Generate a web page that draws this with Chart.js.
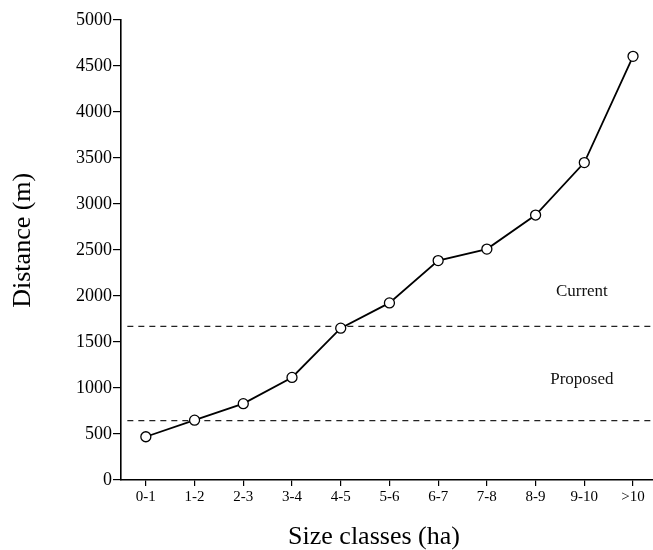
<!DOCTYPE html>
<html>
<head>
<meta charset="utf-8">
<script src="https://cdn.jsdelivr.net/npm/chart.js@4.4.1/dist/chart.umd.min.js"></script>
<style>
  html, body { margin: 0; padding: 0; background: #ffffff; }
  #wrap { width: 653px; height: 550px; position: relative; }
</style>
</head>
<body>
<div id="wrap"><canvas id="c" width="653" height="550"></canvas></div>
<script>
// ---- data ----
const categories = ['0-1', '1-2', '2-3', '3-4', '4-5', '5-6', '6-7', '7-8', '8-9', '9-10', '>10'];
const distances  = [470, 650, 830, 1115, 1650, 1925, 2385, 2510, 2880, 3450, 4605];
const thresholdValues = [1670, 645];           // Current, Proposed (dashed lines)
const zoneLabels = ['Current', 'Proposed'];
const zoneLabelValues = [2050, 1090];           // y-positions of the zone labels (data units)
const yTicks = [0, 500, 1000, 1500, 2000, 2500, 3000, 3500, 4000, 4500, 5000];

const X_MIN = -0.51, X_MAX = 10.41;
const FONT = '"Liberation Serif", "DejaVu Serif", serif';

const lineData = categories.map((c, i) => ({ x: i, y: distances[i] }));
const thresholdSets = thresholdValues.map(v => ({
  data: [{ x: X_MIN + 0.13, y: v }, { x: X_MAX, y: v }],
  borderColor: '#222',
  borderWidth: 1.3,
  borderDash: [6, 5],
  pointRadius: 0,
  fill: false,
  order: 2
}));

const zoneLabelPlugin = {
  id: 'zoneLabels',
  afterDatasetsDraw(chart) {
    const { ctx, scales: { x, y } } = chart;
    ctx.save();
    ctx.fillStyle = '#111';
    ctx.font = '17px ' + FONT;
    ctx.textAlign = 'center';
    ctx.textBaseline = 'middle';
    zoneLabels.forEach((t, i) => {
      ctx.fillText(t, x.getPixelForValue(8.95), y.getPixelForValue(zoneLabelValues[i]));
    });
    ctx.restore();
  }
};

new Chart(document.getElementById('c'), {
  type: 'line',
  data: {
    datasets: [
      {
        data: lineData,
        borderColor: '#000',
        borderWidth: 1.8,
        pointRadius: 5,
        pointBackgroundColor: '#fff',
        pointBorderColor: '#000',
        pointBorderWidth: 1.3,
        tension: 0,
        fill: false,
        clip: false,
        order: 1
      },
      ...thresholdSets
    ]
  },
  options: {
    responsive: false,
    animation: false,
    layout: { autoPadding: false, padding: { top: 20, right: 0, left: 0, bottom: 0 } },
    plugins: { legend: { display: false }, tooltip: { enabled: false } },
    scales: {
      x: {
        type: 'linear',
        min: X_MIN,
        max: X_MAX,
        afterBuildTicks(scale) {
          scale.ticks = categories.map((c, i) => ({ value: i }));
        },
        afterFit(scale) { scale.height = 70; scale.paddingRight = 0; scale.paddingLeft = 0; },
        ticks: {
          callback: (v) => categories[v],
          color: '#000',
          font: { family: FONT, size: 15 },
          padding: 2,
          maxRotation: 0,
          autoSkip: false
        },
        grid: { display: true, drawOnChartArea: false, drawTicks: true, tickLength: 6, color: '#000', lineWidth: 1.2 },
        border: { display: true, color: '#000', width: 1.6 },
        title: {
          display: true,
          text: 'Size classes (ha)\u00A0\u00A0\u00A0\u00A0',
          color: '#000',
          font: { family: FONT, size: 26, lineHeight: 1.0 },
          padding: { top: 0, bottom: 0 }
        }
      },
      y: {
        type: 'linear',
        min: 0,
        max: 5000,
        afterBuildTicks(scale) {
          scale.ticks = yTicks.map(v => ({ value: v }));
        },
        afterFit(scale) { scale.width = 121; },
        ticks: {
          callback: (v) => String(v),
          color: '#000',
          font: { family: FONT, size: 18 },
          padding: 1
        },
        grid: { display: true, drawOnChartArea: false, drawTicks: true, tickLength: 8, color: '#000', lineWidth: 1.2 },
        border: { display: true, color: '#000', width: 1.6 },
        title: {
          display: true,
          text: '\u00A0\u00A0\u00A0Distance (m)',
          color: '#000',
          font: { family: FONT, size: 26, lineHeight: 1.2 },
          padding: { top: 8, bottom: 0 }
        }
      }
    }
  },
  plugins: [zoneLabelPlugin]
});
</script>
</body>
</html>
